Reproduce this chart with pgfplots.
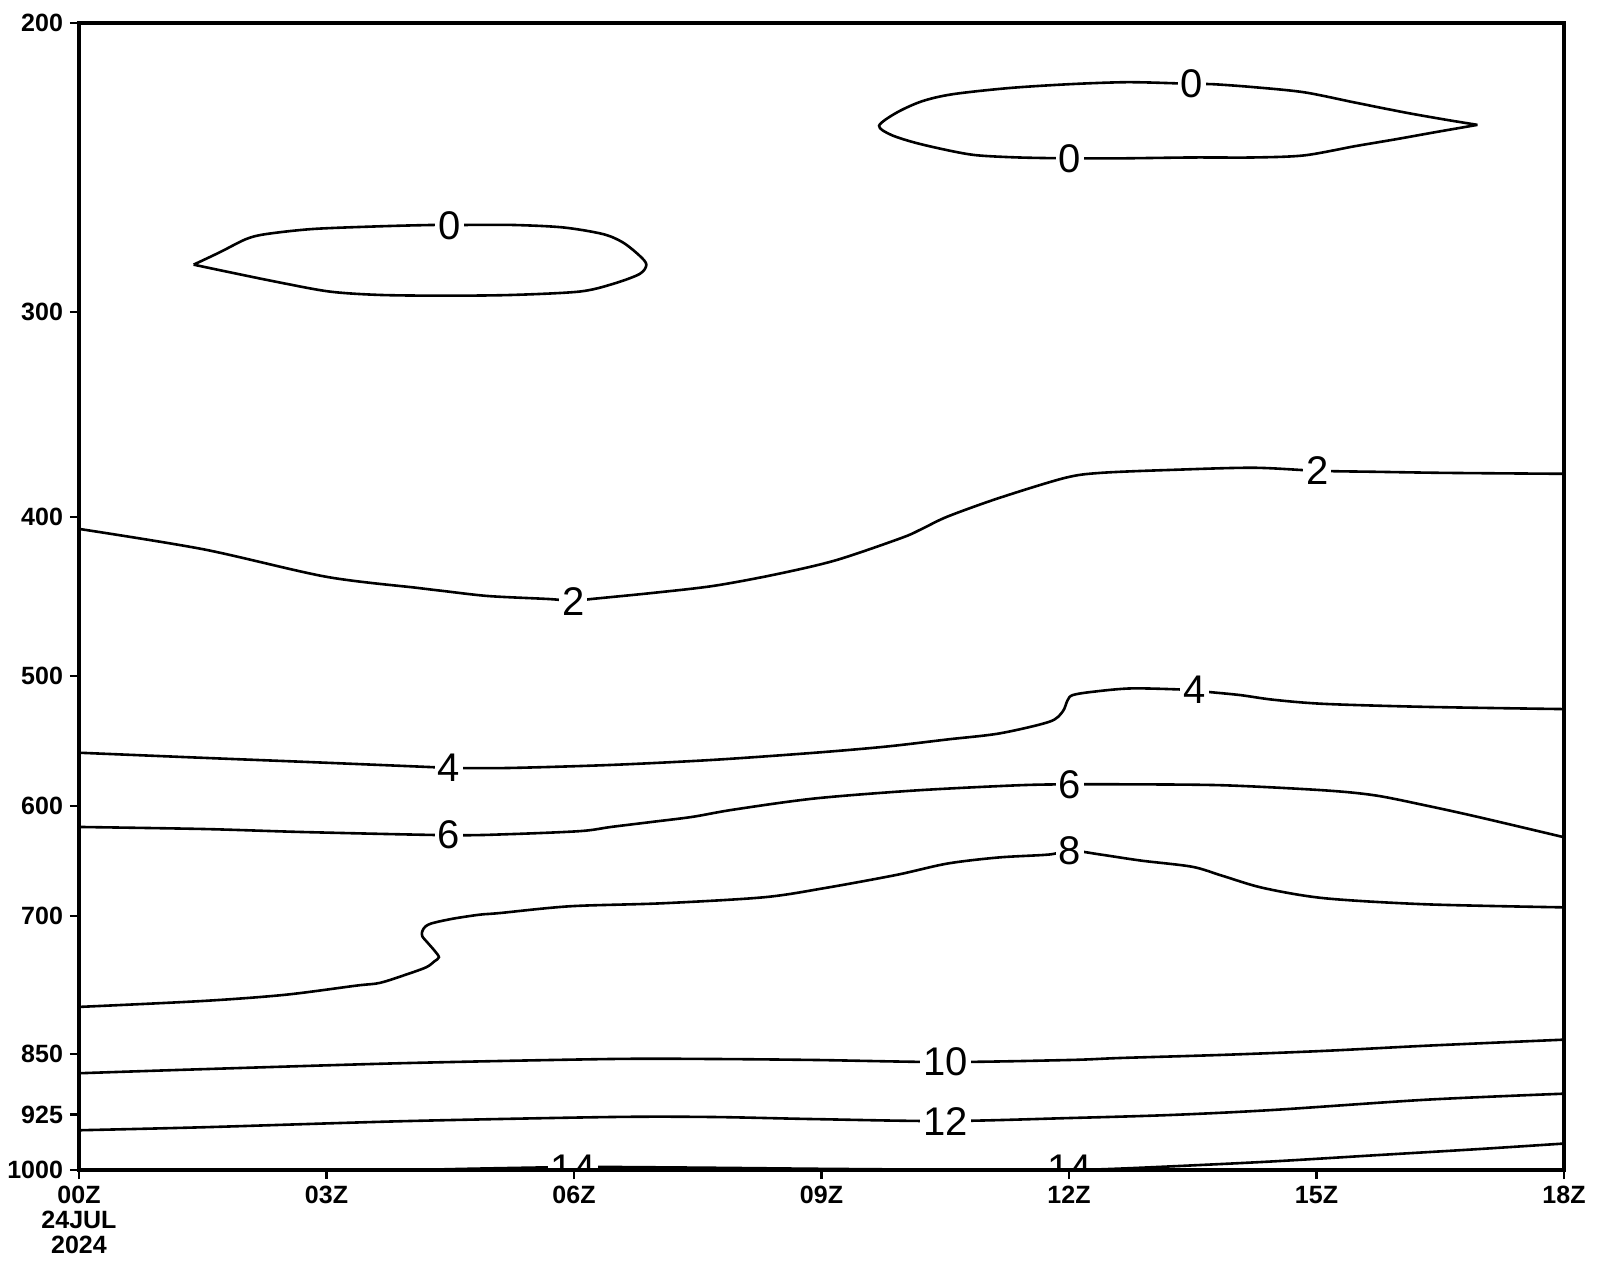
\documentclass[border=0pt]{standalone}
\usepackage{fontspec}
\setmainfont{Liberation Sans}
\usepackage{trimclip}
\usepackage{pgfplots}
\pgfplotsset{compat=1.18}
\tikzset{lab/.style={fill=white, inner sep=1.5pt, text=black, font=\fontsize{20}{24}\selectfont}}
\pgfplotsset{cont/.style={black, solid, no markers, line width=1.3pt, smooth, tension=0.5}}
\begin{document}
\begin{tikzpicture}
\begin{axis}[
  scale only axis, width=742.5pt, height=573.5pt,
  xmin=0, xmax=18, ymin=200, ymax=1000,
  ymode=log, y dir=reverse,
  axis on top,
  xtick={0,3,6,9,12,15,18},
  xticklabels={{00Z\\24JUL\\2024},03Z,06Z,09Z,12Z,15Z,18Z},
  ytick={200,300,400,500,600,700,850,925,1000},
  yticklabels={200,300,400,500,600,700,850,925,1000},
  minor tick num=0, yminorticks=false, xminorticks=false,
  tick align=outside, tick pos=left,
  major tick length=4.5pt,
  every tick/.append style={line width=1.2pt, black},
  axis line style={line width=1.7pt},
  xticklabel style={font=\fontsize{12.5}{12.5}\selectfont\bfseries, align=center},
  yticklabel style={font=\fontsize{12.5}{12.5}\selectfont\bfseries},
  clip=true,
]
% contour 0 (left closed)
\addplot[cont] coordinates {(1.389,280.7) (1.704,275.9) (2.026,270.8) (2.270,268.9) (2.834,267.0) (3.643,266.0) (4.290,265.5) (4.653,265.5) (5.259,265.5) (5.865,266.4) (6.350,268.9) (6.593,272.1) (6.795,277.2) (6.877,280.7) (6.795,284.4) (6.471,288.4) (6.068,291.5) (5.259,292.9) (4.451,293.2) (3.643,292.9) (3.037,291.5) (2.430,287.8) (1.825,283.7) (1.389,280.7)};
% contour 0 (right closed)
\addplot[cont] coordinates {(16.951,230.7) (16.457,233.0) (15.963,235.4) (15.468,237.7) (14.851,240.8) (14.233,241.5) (13.492,241.5) (12.627,241.8) (12.009,241.8) (11.391,241.5) (10.897,240.8) (10.588,239.4) (10.156,236.7) (9.847,234.0) (9.698,231.0) (9.909,226.8) (10.217,223.2) (10.588,221.0) (11.268,219.1) (12.009,217.9) (12.689,217.3) (13.245,217.6) (13.492,217.9) (13.739,217.9) (14.233,218.8) (14.851,220.4) (15.468,223.6) (16.086,226.8) (16.580,229.1) (16.951,230.7)};
% contour 2
\addplot[cont] coordinates {(0,406.7) (1.507,418.5) (2.990,434.9) (4.102,441.8) (4.411,443.7) (4.967,446.9) (5.708,448.8) (5.992,450.1) (6.202,448.8) (6.943,445.0) (7.685,440.6) (8.426,433.7) (9.167,425.1) (9.970,411.9) (10.217,406.7) (10.526,399.8) (11.144,389.6) (11.947,378.7) (12.380,376.0) (13.245,374.4) (14.233,373.3) (15.011,374.9) (15.715,375.4) (16.580,376.0) (18.0,376.5)};
% contour 4
\addplot[cont] coordinates {(0,556.8) (1.507,560.8) (2.743,564.0) (4.225,568.0) (4.485,568.8) (5.214,568.8) (6.449,566.4) (7.685,562.4) (8.920,556.8) (9.785,552.0) (10.526,546.5) (11.156,541.9) (11.762,533.1) (11.922,525.6) (11.984,517.1) (12.046,513.5) (12.293,511.1) (12.775,508.7) (13.524,509.9) (13.665,511.1) (14.072,513.5) (14.480,516.9) (15.098,519.9) (16.333,522.1) (18.0,523.7)};
% contour 6
\addplot[cont] coordinates {(0,617.9) (1.507,619.7) (2.743,622.4) (4.485,625.1) (5.214,624.2) (6.079,621.5) (6.449,617.9) (6.943,613.6) (7.438,609.2) (7.932,603.1) (8.920,593.7) (10.156,587.0) (11.391,582.8) (12.009,582.0) (12.627,582.0) (13.862,582.8) (15.098,587.0) (15.715,591.2) (16.333,599.7) (16.951,609.2) (18.0,626.9)};
% contour 8
\addplot[cont] coordinates {(0,795.6) (1.507,788.8) (2.496,782.1) (3.360,772.1) (3.645,769.1) (3.966,760.2) (4.209,752.4) (4.309,746.1) (4.363,741.9) (4.309,735.0) (4.229,727.2) (4.161,720.4) (4.161,715.4) (4.201,710.4) (4.290,707.1) (4.532,702.8) (4.855,698.9) (5.098,697.3) (5.955,690.7) (7.067,687.8) (8.302,682.0) (9.044,673.2) (9.909,660.9) (10.526,650.5) (11.144,645.0) (11.762,642.3) (12.009,638.6) (12.380,642.3) (12.874,647.8) (13.492,653.4) (13.862,661.8) (14.356,673.2) (15.098,682.9) (16.333,688.8) (18.0,691.7)};
% contour 10
\addplot[cont] coordinates {(0,873.0) (1.507,868.0) (3.978,860.6) (6.449,855.7) (7.685,855.7) (8.920,856.9) (10.502,859.4) (12.009,856.9) (12.627,854.5) (13.862,850.8) (15.098,846.0) (16.333,839.9) (18.0,832.8)};
% contour 12
\addplot[cont] coordinates {(0,945.7) (1.507,941.7) (3.978,933.6) (6.449,928.3) (7.685,928.3) (8.920,931.0) (10.502,933.6) (12.009,929.6) (13.245,925.6) (14.480,919.1) (16.333,906.0) (18.0,898.4)};
% contour 14
\addplot[cont] coordinates {(3.5,1001.5) (4.596,998.5) (5.584,996.4) (5.992,995.7) (6.449,995.7) (7.685,996.8) (8.920,998.2) (10.156,999.3) (11.391,1000.3) (12.009,1000.2) (12.627,997.9) (13.492,993.5) (14.480,987.9) (15.715,979.4) (16.951,971.1) (18.0,963.5)};
% labels
\node[lab] at (axis cs:4.49,265.7) {0};
\node[lab] at (axis cs:13.49,217.9) {0};
\node[lab] at (axis cs:12.01,241.8) {0};
\node[lab] at (axis cs:5.99,450.1) {2};
\node[lab] at (axis cs:15.01,374.9) {2};
\node[lab] at (axis cs:4.485,568.8) {4};
\node[lab] at (axis cs:13.52,510) {4};
\node[lab] at (axis cs:4.485,625.1) {6};
\node[lab] at (axis cs:12.01,582) {6};
\node[lab] at (axis cs:12.01,638.6) {8};
\node[lab] at (axis cs:10.50,859.4) {10};
\node[lab] at (axis cs:10.50,933.6) {12};
\node[lab, anchor=south, inner ysep=0pt] at (axis cs:5.99,1000) {\clipbox{0pt 6.3pt 0pt 0pt}{14}};
\node[lab, anchor=south, inner ysep=0pt] at (axis cs:12.01,1000) {\clipbox{0pt 6.3pt 0pt 0pt}{14}};
\end{axis}
\path (current axis.south west) ++(-39.5pt,-49pt) coordinate (BL);
\path (current axis.north east) ++(17pt,11.5pt) coordinate (TR);
\pgfresetboundingbox
\path (BL) rectangle (TR);
\end{tikzpicture}
\end{document}
